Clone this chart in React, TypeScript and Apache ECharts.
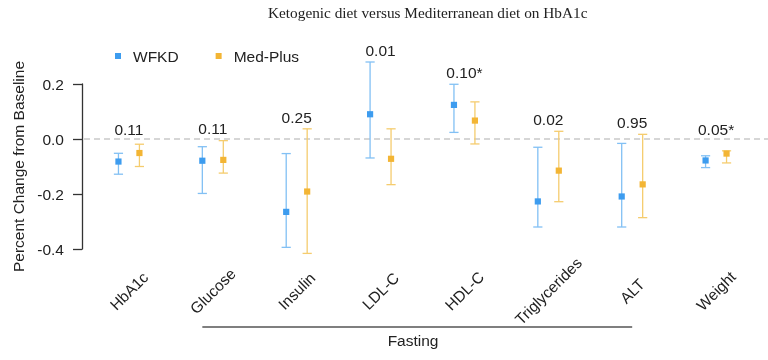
import React, { useEffect, useRef } from "react";
import * as echarts from "echarts";

const categories = ["HbA1c", "Glucose", "Insulin", "LDL-C", "HDL-C", "Triglycerides", "ALT", "Weight"];
const wfkdMean = [-0.082, -0.079, -0.265, 0.09, 0.124, -0.227, -0.209, -0.078];
const wfkdLower = [-0.128, -0.198, -0.394, -0.069, 0.024, -0.32, -0.32, -0.104];
const wfkdUpper = [-0.052, -0.028, -0.053, 0.28, 0.199, -0.03, -0.016, -0.061];
const medMean = [-0.051, -0.076, -0.191, -0.072, 0.067, -0.115, -0.165, -0.053];
const medLower = [-0.1, -0.124, -0.416, -0.166, -0.018, -0.228, -0.286, -0.087];
const medUpper = [-0.019, -0.006, 0.037, 0.037, 0.135, 0.028, 0.017, -0.043];
const pValues = ["0.11", "0.11", "0.25", "0.01", "0.10*", "0.02", "0.95", "0.05*"];
const yMin = -0.4;
const yMax = 0.2;
const yStep = 0.2;
const fastingFrom = "Glucose";
const fastingTo = "ALT";
const fastingLabel = "Fasting";

const FONT = "'Liberation Sans', Arial, Helvetica, sans-serif";
const TXT = "#222";
const FS = 15.5;

function errorBarSeries(name: string, mean: number[], lo: number[], hi: number[], side: number, pointColor: string, barColor: string) {
  return {
    type: "custom",
    name,
    clip: false,
    z: 5,
    itemStyle: { color: pointColor },
    data: mean.map((m, i) => [i, m, lo[i], hi[i]]),
    encode: { x: 0, y: [1, 2, 3] },
    renderItem: (params: any, api: any) => {
      const i = api.value(0);
      const band = api.size([1, 0])[0];
      const off = band * 0.125 * side;
      const pm = api.coord([i, api.value(1)]);
      const pl = api.coord([i, api.value(2)]);
      const ph = api.coord([i, api.value(3)]);
      const x = pm[0] + off;
      const cap = 4.6;
      const ls = { stroke: barColor, lineWidth: 1.3 };
      const s = 6.2;
      return {
        type: "group",
        children: [
          { type: "line", shape: { x1: x, y1: pl[1], x2: x, y2: ph[1] }, style: ls },
          { type: "line", shape: { x1: x - cap, y1: pl[1], x2: x + cap, y2: pl[1] }, style: ls },
          { type: "line", shape: { x1: x - cap, y1: ph[1], x2: x + cap, y2: ph[1] }, style: ls },
          { type: "rect", shape: { x: x - s / 2, y: pm[1] - s / 2, width: s, height: s }, style: { fill: pointColor } },
        ],
      };
    },
  };
}

export default function App() {
  const ref = useRef<HTMLDivElement>(null);
  useEffect(() => {
    if (!ref.current) return;
    const chart = echarts.init(ref.current, undefined, { renderer: "svg" });
    const labelVals = categories.map((_, i) => Math.max(wfkdUpper[i], medUpper[i], -0.01) + 0.043);
    const fromIdx = categories.indexOf(fastingFrom);
    const toIdx = categories.indexOf(fastingTo);
    chart.setOption({
      animation: false,
      title: {
        text: "Ketogenic diet versus Mediterranean diet on HbA1c",
        left: 268,
        top: 5,
        padding: 0,
        textStyle: { fontFamily: "'Liberation Serif', 'Times New Roman', serif", fontSize: 15.3, fontWeight: "normal", color: TXT },
      },
      legend: {
        data: ["WFKD", "Med-Plus"],
        left: 115,
        top: 48,
        padding: 0,
        icon: "rect",
        itemWidth: 6,
        itemHeight: 6,
        itemGap: 37,
        textStyle: { fontFamily: FONT, fontSize: FS, color: TXT, padding: [0, 0, 0, 7] },
      },
      grid: { left: 87, right: 10, top: 84, bottom: 111, containLabel: false },
      xAxis: {
        type: "category",
        data: categories,
        axisLine: { show: false },
        axisTick: { show: false },
        splitLine: { show: false },
        axisLabel: {
          rotate: 45,
          align: "center",
          verticalAlign: "middle",
          margin: 42,
          interval: 0,
          fontFamily: FONT,
          fontSize: FS,
          color: TXT,
        },
      },
      yAxis: {
        type: "value",
        min: yMin,
        max: yMax,
        interval: yStep,
        offset: 5,
        name: "Percent Change from Baseline",
        nameLocation: "middle",
        nameGap: 56,
        nameTextStyle: { fontFamily: FONT, fontSize: FS, color: TXT },
        axisLine: { show: true, lineStyle: { color: "#333", width: 1.3 } },
        axisTick: { show: true, length: 9, lineStyle: { color: "#333", width: 1.3 } },
        splitLine: { show: false },
        axisLabel: {
          margin: 18,
          fontFamily: FONT,
          fontSize: FS,
          color: TXT,
          formatter: (v: number) => v.toFixed(1),
        },
      },
      series: [
        {
          type: "custom",
          name: "zero",
          clip: false,
          z: 1,
          silent: true,
          data: [[0, 0]],
          renderItem: (params: any, api: any) => {
            const p = api.coord([0, 0]);
            return {
              type: "line",
              shape: { x1: params.coordSys.x - 3, y1: p[1], x2: api.getWidth(), y2: p[1] },
              style: { stroke: "#c9c9c9", lineWidth: 1.3, lineDash: [6, 4] },
            };
          },
        },
        errorBarSeries("WFKD", wfkdMean, wfkdLower, wfkdUpper, -1, "#3d9cef", "#82c0f4"),
        errorBarSeries("Med-Plus", medMean, medLower, medUpper, 1, "#f3b534", "#f5cc6e"),
        {
          type: "custom",
          name: "pvals",
          clip: false,
          z: 6,
          data: labelVals.map((v, i) => [i, v]),
          renderItem: (params: any, api: any) => {
            const p = api.coord([api.value(0), api.value(1)]);
            return {
              type: "text",
              x: p[0],
              y: p[1],
              style: { text: pValues[params.dataIndex], align: "center", verticalAlign: "middle", fontFamily: FONT, fontSize: FS, fill: TXT },
            };
          },
        },
        {
          type: "custom",
          name: "fasting",
          clip: false,
          z: 6,
          data: [[fromIdx, toIdx]],
          renderItem: (params: any, api: any) => {
            const band = api.size([1, 0])[0];
            const a = api.coord([api.value(0), 0]);
            const b = api.coord([api.value(1), 0]);
            const x1 = a[0] - band * 0.125;
            const x2 = b[0];
            const y = params.coordSys.y + params.coordSys.height + 78;
            return {
              type: "group",
              children: [
                { type: "line", shape: { x1, y1: y, x2, y2: y }, style: { stroke: "#555", lineWidth: 1.5 } },
                {
                  type: "text",
                  x: (x1 + x2) / 2 - band * 0.05,
                  y: y + 13,
                  style: { text: fastingLabel, align: "center", verticalAlign: "middle", fontFamily: FONT, fontSize: FS, fill: TXT },
                },
              ],
            };
          },
        },
      ],
    });
    return () => chart.dispose();
  }, []);
  return <div ref={ref} style={{ position: "fixed", left: 0, top: 0, width: 768, height: 360 }} />;
}
